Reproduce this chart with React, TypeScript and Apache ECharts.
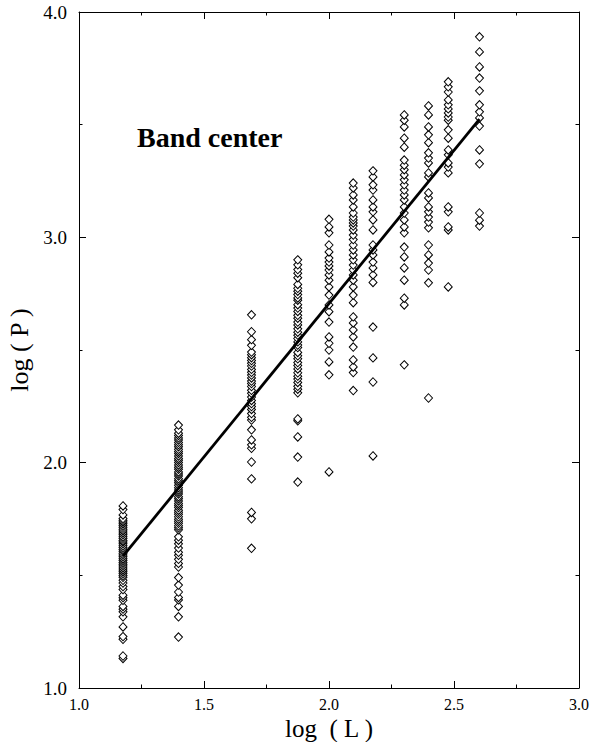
import { useEffect, useRef } from "react";
import * as echarts from "echarts";

// log10 of the system sizes L
const logL = [1.176, 1.398, 1.69, 1.875, 2.0, 2.097, 2.176, 2.301, 2.398, 2.477, 2.602];

// log10 of P for each sample, one list per system size (ascending)
const logP15 = [
  1.131, 1.142, 1.216, 1.228, 1.271, 1.316, 1.338, 1.35, 1.362, 1.389, 1.401, 1.412, 1.437, 1.45,
  1.466, 1.478, 1.491, 1.499, 1.508, 1.516, 1.524, 1.533, 1.541, 1.549, 1.557, 1.566, 1.574, 1.582,
  1.59, 1.598, 1.607, 1.615, 1.623, 1.631, 1.64, 1.648, 1.655, 1.664, 1.671, 1.68, 1.688, 1.697,
  1.704, 1.713, 1.721, 1.729, 1.737, 1.744, 1.752, 1.768, 1.792, 1.808,
];
const logP25 = [
  1.226, 1.316, 1.362, 1.391, 1.402, 1.426, 1.457, 1.49, 1.537, 1.553, 1.571, 1.589, 1.602, 1.621,
  1.64, 1.656, 1.671, 1.702, 1.711, 1.72, 1.731, 1.74, 1.749, 1.76, 1.771, 1.78, 1.789, 1.801, 1.81,
  1.819, 1.83, 1.84, 1.849, 1.861, 1.87, 1.879, 1.889, 1.9, 1.911, 1.92, 1.929, 1.941, 1.95, 1.959,
  1.971, 1.98, 1.99, 2.001, 2.011, 2.019, 2.03, 2.041, 2.05, 2.059, 2.071, 2.08, 2.09, 2.101, 2.11,
  2.121, 2.131, 2.146, 2.167,
];
const logP49 = [
  1.62, 1.751, 1.779, 1.928, 2.003, 2.064, 2.079, 2.101, 2.146, 2.189, 2.201, 2.218, 2.236, 2.249,
  2.262, 2.276, 2.291, 2.308, 2.321, 2.338, 2.351, 2.362, 2.376, 2.389, 2.401, 2.414, 2.429, 2.441,
  2.453, 2.466, 2.479, 2.491, 2.521, 2.546, 2.581, 2.656,
];
const logP75 = [
  1.914, 2.025, 2.114, 2.186, 2.194, 2.31, 2.326, 2.339, 2.356, 2.371, 2.384, 2.399, 2.416, 2.431,
  2.444, 2.461, 2.474, 2.489, 2.511, 2.522, 2.536, 2.551, 2.566, 2.579, 2.594, 2.611, 2.624, 2.641,
  2.654, 2.671, 2.686, 2.701, 2.721, 2.731, 2.746, 2.761, 2.774, 2.791, 2.821, 2.841, 2.857, 2.878,
  2.9,
];
const logP100 = [
  1.959, 2.39, 2.447, 2.5, 2.53, 2.558, 2.624, 2.67, 2.7, 2.744, 2.78, 2.81, 2.833, 2.855, 2.873,
  2.89, 2.908, 2.935, 2.966, 3.02, 3.046, 3.08,
];
const logP125 = [
  2.32, 2.4, 2.425, 2.456, 2.513, 2.558, 2.589, 2.62, 2.647, 2.71, 2.744, 2.78, 2.81, 2.833, 2.855,
  2.877, 2.9, 2.922, 2.944, 2.966, 2.99, 3.01, 3.033, 3.05, 3.064, 3.077, 3.09, 3.108, 3.135, 3.166,
  3.188, 3.219, 3.241,
];
const logP150 = [
  2.03, 2.358, 2.465, 2.602, 2.8, 2.833, 2.864, 2.89, 2.922, 2.944, 2.966, 3.033, 3.077, 3.113,
  3.135, 3.166, 3.21, 3.233, 3.268, 3.295,
];
const logP200 = [
  2.434, 2.7, 2.73, 2.81, 2.864, 2.913, 2.957, 3.02, 3.046, 3.077, 3.108, 3.135, 3.166, 3.188, 3.21,
  3.233, 3.255, 3.277, 3.3, 3.32, 3.343, 3.4, 3.44, 3.49, 3.52, 3.543,
];
const logP250 = [
  2.287, 2.798, 2.855, 2.886, 2.922, 2.966, 3.042, 3.068, 3.09, 3.113, 3.135, 3.175, 3.197, 3.268,
  3.286, 3.33, 3.352, 3.375, 3.42, 3.455, 3.49, 3.543, 3.583,
];
const logP300 = [
  2.78, 3.033, 3.046, 3.113, 3.135, 3.286, 3.312, 3.33, 3.366, 3.388, 3.44, 3.477, 3.52, 3.534,
  3.552, 3.57, 3.588, 3.61, 3.645, 3.668, 3.69,
];
const logP400 = [
  3.05, 3.076, 3.108, 3.326, 3.388, 3.494, 3.53, 3.557, 3.588, 3.65, 3.707, 3.756, 3.823, 3.89,
];

const logPByL = [
  logP15, logP25, logP49, logP75, logP100, logP125, logP150, logP200, logP250, logP300, logP400,
];

// least-squares fit drawn across the sampled range
const fitLogL = [1.176, 2.602];
const fitLogP = [1.585, 3.525];

const FONT = "'Liberation Serif', 'Times New Roman', Times, serif";

export default function App() {
  const ref = useRef<HTMLDivElement>(null);

  useEffect(() => {
    if (!ref.current) return;
    const chart = echarts.init(ref.current, undefined, { renderer: "svg" });

    const points: number[][] = [];
    logL.forEach((x, i) => {
      logPByL[i].forEach((y) => points.push([x, y]));
    });

    const tickCommon = {
      axisLine: { show: true, lineStyle: { color: "#000", width: 1 } },
      axisTick: { show: true, inside: true, length: 7, lineStyle: { color: "#000", width: 1 } },
      minorTick: { show: true, splitNumber: 2, length: 3.5, lineStyle: { color: "#000", width: 1 } },
      splitLine: { show: false },
      minorSplitLine: { show: false },
    };

    chart.setOption({
      animation: false,
      backgroundColor: "#fff",
      grid: {
        left: 79,
        right: 14,
        top: 12,
        bottom: 54,
        containLabel: false,
        outerBoundsMode: "none",
      },
      xAxis: [
        {
          type: "value",
          min: 1,
          max: 3,
          interval: 0.5,
          position: "bottom",
          ...tickCommon,
          axisLabel: {
            color: "#000",
            fontFamily: FONT,
            fontSize: 16,
            margin: 8,
            formatter: (v: number) => v.toFixed(1),
          },
        },
        {
          type: "value",
          min: 1,
          max: 3,
          interval: 0.5,
          position: "top",
          ...tickCommon,
          axisLabel: { show: false },
        },
      ],
      yAxis: [
        {
          type: "value",
          min: 1,
          max: 4,
          interval: 1,
          position: "left",
          ...tickCommon,
          axisLabel: {
            color: "#000",
            fontFamily: FONT,
            fontSize: 19,
            margin: 12,
            formatter: (v: number) => v.toFixed(1),
          },
          name: "log ( P )",
          nameLocation: "middle",
          nameGap: 43,
          nameRotate: 90,
          nameTextStyle: { color: "#000", fontFamily: FONT, fontSize: 26 },
        },
        {
          type: "value",
          min: 1,
          max: 4,
          interval: 1,
          position: "right",
          ...tickCommon,
          axisLabel: { show: false },
        },
      ],
      graphic: [
        {
          type: "text",
          x: 137,
          y: 137.5,
          silent: true,
          style: {
            text: "Band center",
            fill: "#000",
            font: `bold 28px ${FONT}`,
            verticalAlign: "middle",
            align: "left",
          },
        },
        {
          // x-axis title, centred under the plot frame
          type: "text",
          x: 329,
          y: 728,
          silent: true,
          style: {
            text: "log  ( L )",
            fill: "#000",
            font: `25px ${FONT}`,
            verticalAlign: "middle",
            align: "center",
          },
        },
      ],
      series: [
        {
          type: "scatter",
          silent: true,
          symbol: "diamond",
          symbolSize: [8, 8.5],
          itemStyle: { color: "#fff", borderColor: "#000", borderWidth: 1, opacity: 1 },
          data: points,
          z: 2,
        },
        {
          type: "line",
          silent: true,
          showSymbol: false,
          lineStyle: { color: "#000", width: 2.8 },
          data: fitLogL.map((x, i) => [x, fitLogP[i]]),
          z: 3,
        },
      ],
    });

    return () => chart.dispose();
  }, []);

  return (
    <div
      ref={ref}
      style={{ position: "fixed", left: 0, top: 0, width: 593, height: 742, background: "#fff" }}
    />
  );
}
